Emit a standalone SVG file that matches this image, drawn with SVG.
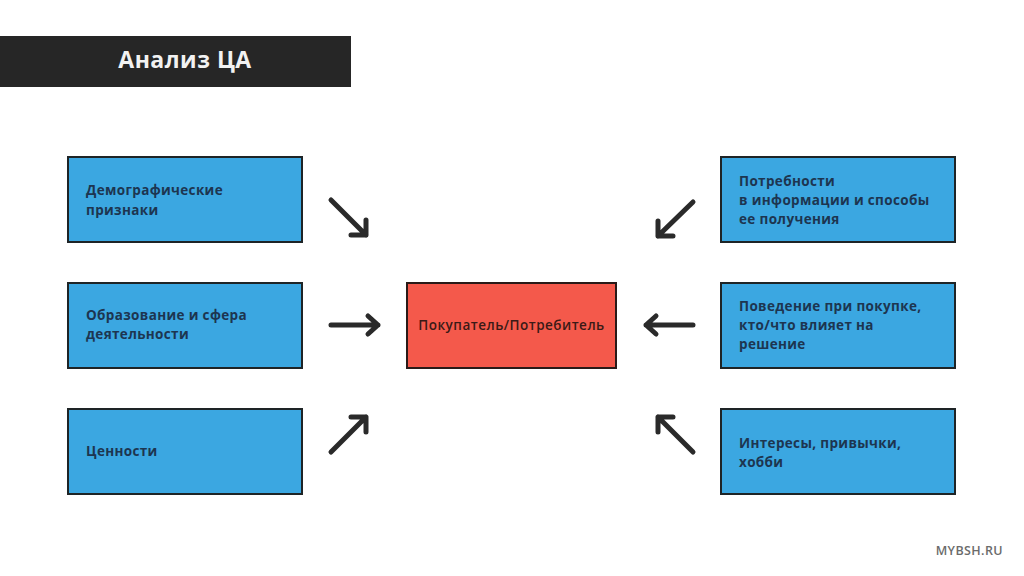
<svg xmlns="http://www.w3.org/2000/svg" width="1024" height="576" viewBox="0 0 1024 576">
<style>
.box{fill:#3ba7e1;stroke:#1e2426;stroke-width:2}
.center{fill:#f4594b;stroke:#2a1a18;stroke-width:2}
.t{font-family:"Open Sans","Noto Sans","DejaVu Sans",sans-serif;font-weight:bold;font-size:13.5px;letter-spacing:0.35px;fill:#1d3550}
.ct{font-family:"Open Sans","Noto Sans","DejaVu Sans",sans-serif;font-weight:600;font-size:13.5px;letter-spacing:0.5px;fill:#3a1a16}
.ar{stroke:#2a2a2a;stroke-width:5;stroke-linecap:round;stroke-linejoin:round;fill:none}
</style>
<rect width="1024" height="576" fill="#ffffff"/>
<g id="title">
<rect x="0" y="36" width="351" height="51" fill="#262626"/>
<text x="185" y="68" text-anchor="middle" font-family="Open Sans, Noto Sans, sans-serif" font-weight="bold" font-size="23" letter-spacing="0.5" fill="#f2f2f2">Анализ ЦА</text>
</g>
<g id="n-demo"><rect class="box" x="68" y="157" width="234" height="85"/>
<text class="t" x="86" y="195">Демографические</text><text class="t" x="86" y="215">признаки</text></g>
<g id="n-edu"><rect class="box" x="68" y="283" width="234" height="85"/>
<text class="t" x="86" y="320">Образование и сфера</text><text class="t" x="86" y="339">деятельности</text></g>
<g id="n-values"><rect class="box" x="68" y="409" width="234" height="85"/>
<text class="t" x="86" y="456">Ценности</text></g>
<g id="n-center"><rect class="center" x="407" y="283" width="209" height="85"/>
<text class="ct" x="511.5" y="330" text-anchor="middle">Покупатель/Потребитель</text></g>
<g id="n-needs"><rect class="box" x="721" y="157" width="234" height="85"/>
<text class="t" x="739" y="186">Потребности</text><text class="t" x="739" y="205">в информации и способы</text><text class="t" x="739" y="224">ее получения</text></g>
<g id="n-behav"><rect class="box" x="721" y="283" width="234" height="85"/>
<text class="t" x="739" y="311">Поведение при покупке,</text><text class="t" x="739" y="330">кто/что влияет на</text><text class="t" x="739" y="349">решение</text></g>
<g id="n-interests"><rect class="box" x="721" y="409" width="234" height="85"/>
<text class="t" x="739" y="448">Интересы, привычки,</text><text class="t" x="739" y="467">хобби</text></g>
<g id="connectors">
<path class="ar" d="M331 200 L366 235 M366 220 L366 235 L351 235"/>
<path class="ar" d="M331 325 L378 325 M368 316 L378 325 L368 334"/>
<path class="ar" d="M331 452 L366 417 M351 417 L366 417 L366 432"/>
<path class="ar" d="M693 202 L658 236 M658 221 L658 236 L673 236"/>
<path class="ar" d="M693 325 L646 325 M656 316 L646 325 L656 334"/>
<path class="ar" d="M693 452 L658 417 M673 417 L658 417 L658 432"/>
</g>
<text x="1003" y="555" text-anchor="end" font-family="Open Sans, Noto Sans, sans-serif" font-weight="600" font-size="12.5" letter-spacing="0.4" fill="#6b6b6b">MYBSH.RU</text>
</svg>
